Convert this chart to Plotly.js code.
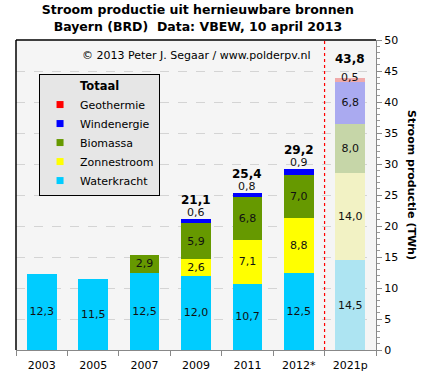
<!DOCTYPE html>
<html><head><meta charset="utf-8">
<script src="https://cdn.plot.ly/plotly-3.0.1.min.js"></script>
<style>body{margin:0;background:#fff}</style>
</head><body><div id="chart" style="width:421px;height:381px"></div>
<script>
const categories = ['2003','2005','2007','2009','2011','2012*','2021p'];
const waterkracht = [12.3, 11.5, 12.5, 12.0, 10.7, 12.5, 14.5];
const zonnestroom = [0, 0, 0, 2.6, 7.1, 8.8, 14.0];
const biomassa    = [0, 0, 2.9, 5.9, 6.8, 7.0, 8.0];
const windenergie = [0, 0, 0, 0.6, 0.8, 0.9, 6.8];
const geothermie  = [0, 0, 0, 0, 0, 0, 0.5];
const totalLabels = ['', '', '', '21,1', '25,4', '29,2', '43,8'];

const FONT = 'DejaVu Sans, Verdana, sans-serif';
const fmt = v => v.toFixed(1).replace('.', ',');
const isForecast = c => c.endsWith('p');
const colorsFor = (base, faded) => categories.map(c => isForecast(c) ? faded : base);

const series = [
  {name:'Waterkracht', y:waterkracht, base:'#00CCFF', faded:'#ADE4F2'},
  {name:'Zonnestroom', y:zonnestroom, base:'#FFFF00', faded:'#F2F2C4'},
  {name:'Biomassa',    y:biomassa,    base:'#669900', faded:'#C6D6A8'},
  {name:'Windenergie', y:windenergie, base:'#0000FF', faded:'#AAAAF0'},
  {name:'Geothermie',  y:geothermie,  base:'#FF0000', faded:'#F0AAAA'}
];
const small = 2; // thin wind/geo segments get their label outside

const barTraces = series.map(s => ({
  type:'bar', name:s.name, x:categories, y:s.y, showlegend:false,
  marker:{color:colorsFor(s.base, s.faded), line:{width:0}},
  text:s.y.map(v => (v > 0 && (v >= small || ['Waterkracht','Zonnestroom','Biomassa'].includes(s.name))) ? fmt(v) : ''),
  textposition:'inside', insidetextanchor:'middle', textangle:0,
  constraintext:'none',
  textfont:{family:FONT, size:11, color:'#111'},
  hoverinfo:'skip'
}));
// legend entries with small square swatches
const legendTraces = series.map(s => ({
  type:'scatter', mode:'markers', name:s.name, x:[null], y:[null],
  marker:{symbol:'square', size:7, color:s.base}, hoverinfo:'skip'
}));

const annotations = [];
const cum = categories.map(() => 0);
series.forEach(s => {
  s.y.forEach((v, i) => {
    const bottom = cum[i];
    cum[i] += v;
    if (v > 0 && v < small && s.name === 'Windenergie') {
      annotations.push({x:i, y:cum[i], xref:'x', yref:'y', text:fmt(v), showarrow:false,
        yanchor:'bottom', yshift:-2, font:{family:FONT, size:11, color:'#111'}});
    }
    if (v > 0 && v < small && s.name === 'Geothermie') {
      annotations.push({x:i, y:bottom + v/2, xref:'x', yref:'y', text:fmt(v), showarrow:false,
        yanchor:'middle', yshift:2, font:{family:FONT, size:11, color:'#111'}});
    }
  });
});
categories.forEach((c, i) => {
  if (totalLabels[i]) {
    annotations.push({x:i, y:cum[i], xref:'x', yref:'y', text:'<b>' + totalLabels[i] + '</b>', showarrow:false,
      yanchor:'bottom', yshift:10, font:{family:FONT, size:12, color:'#000'}});
  }
});
const pw = 421 - 16 - 45, ph = 381 - 40 - 31;
annotations.push({x:0.5, y:0.95, xref:'paper', yref:'paper', xanchor:'center', yanchor:'middle',
  text:'© 2013 Peter J. Segaar / www.polderpv.nl', showarrow:false, font:{family:FONT, size:11, color:'#000'}});
annotations.push({x:(412 - 16) / pw, y:(381 - 31 - 185) / ph, xref:'paper', yref:'paper', xanchor:'center', yanchor:'middle',
  showarrow:false, textangle:90,
  text:'<b>Stroom productie (TWh)</b>', font:{family:FONT, size:11, color:'#000'}});

const layout = {
  width:421, height:381,
  margin:{l:16, r:45, t:40, b:31, pad:0},
  paper_bgcolor:'#ffffff', plot_bgcolor:'#F5F5F5',
  barmode:'stack', bargap:0.42,
  separators:',.',
  title:{text:'<b>Stroom productie uit hernieuwbare bronnen<br>Bayern (BRD)  Data: VBEW, 10 april 2013</b>',
    x:0.47, xanchor:'center', y:0.962, yanchor:'top', font:{family:FONT, size:12.5, color:'#000'}},
  font:{family:FONT, size:11, color:'#000'},
  xaxis:{type:'category', tickson:'boundaries', ticks:'outside', ticklen:5, tickcolor:'#888',
    showline:true, linecolor:'#888', linewidth:1, showgrid:false, zeroline:false, ticklabelstandoff:5,
    tickfont:{family:FONT, size:11, color:'#000'}, fixedrange:true},
  yaxis:{side:'right', range:[0,50], dtick:5, ticks:'outside', ticklen:5, tickcolor:'#888',
    showline:true, linecolor:'#888', linewidth:1,
    showgrid:true, gridcolor:'#D4D4D4', griddash:'dash', gridwidth:1, zeroline:false,
    minor:{ticks:'outside', dtick:1, ticklen:3, tickcolor:'#999', showgrid:false},
    tickfont:{family:FONT, size:11, color:'#000'}, fixedrange:true},
  legend:{x:0.064, y:0.89, xanchor:'left', yanchor:'top', bgcolor:'#E6E6E6', bordercolor:'#000', borderwidth:1,
    traceorder:'reversed', font:{family:FONT, size:11, color:'#000'},
    title:{text:'<b>Totaal</b>', side:'top center', font:{family:FONT, size:11.5, color:'#000'}},
    itemwidth:30, tracegroupgap:0},
  showlegend:true,
  shapes:[
    {type:'line', xref:'paper', yref:'paper', x0:0, x1:1, y0:1, y1:1, line:{color:'#000', width:1.5}},
    {type:'line', xref:'paper', yref:'paper', x0:0, x1:0, y0:0, y1:1, line:{color:'#000', width:1.5}},
    {type:'line', xref:'x', yref:'paper', x0:5.5, x1:5.5, y0:0, y1:1, line:{color:'#FF0000', width:1.2, dash:'3px,3px'}}
  ],
  annotations:annotations
};

Plotly.newPlot('chart', barTraces.concat(legendTraces), layout, {displayModeBar:false, staticPlot:true});
</script></body></html>
